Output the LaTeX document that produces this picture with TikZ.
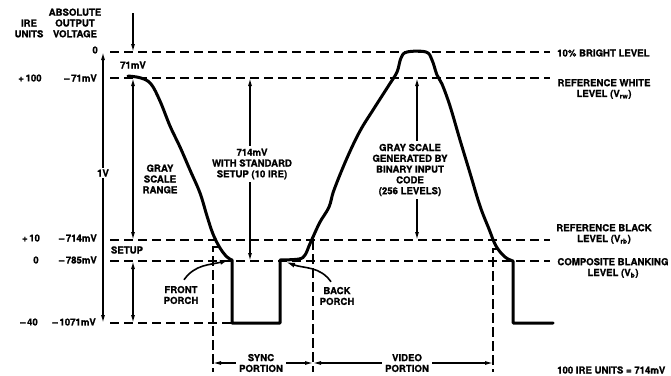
\documentclass[tikz,border=0pt]{standalone}
\usepackage{fontspec}
\setmainfont{TeX Gyre Heros}[BoldFeatures={FakeBold=1.2}]
\usetikzlibrary{arrows.meta,calc}

\tikzset{
  lbl/.style={font=\fontsize{9.6}{10.8}\selectfont\bfseries, align=center, inner sep=0pt},
  level/.style={line width=1.4pt, dash pattern=on 9pt off 5pt},
  dimarrow/.style={line width=1.3pt, -{Latex[length=8pt,width=4pt]}},
  porcharrow/.style={line width=1.6pt, -{Latex[length=9pt,width=5pt]}},
  signal/.style={line width=3pt, line join=round, line cap=round},
}

\begin{document}
\begin{tikzpicture}[x=1pt,y=-1pt]
  \useasboundingbox (0,0) rectangle (671,375);
  % ── Level lines ──
  \coordinate (zeroL) at (110,52);   \coordinate (zeroR) at (550,52);
  \coordinate (whiteL) at (110,78);  \coordinate (whiteR) at (550,78);
  \coordinate (blackL) at (110,240); \coordinate (blackR) at (550,240);
  \coordinate (blankL) at (110,261); \coordinate (blankR) at (550,261);
  \coordinate (syncL) at (110,323);  \coordinate (syncR) at (232,323);
  \draw[level] (zeroL) -- (zeroR);
  \draw[level] (whiteL) -- (whiteR);
  \draw[level] (blackL) -- (blackR);
  \draw[level] (blankL) -- (blankR);
  \draw[level] (syncL) -- (syncR);
  %
  % ── Portion markers ──
  \coordinate (bot) at (0,372);
  \coordinate (fpv) at (213,247);
  \coordinate (bpv) at (313,240);
  \coordinate (vev) at (493,249);
  \draw[level, dash pattern=on 10pt off 4pt] ($(fpv)+(5,0)$) -- (fpv) -- (fpv |- bot);
  \draw[level, dash pattern=on 10pt off 4pt] (bpv) -- (bpv |- bot);
  \draw[level, dash pattern=on 10pt off 4pt] ($(vev)+(6,0)$) -- (vev) -- (vev |- bot);
  %
  % ── Video signal ──
  \draw[signal]
    plot[smooth, tension=0.6] coordinates {(128,76) (141,78) (151,84) (160,101)
      (170,126) (180,147) (190,170) (200,193) (207,216) (213,234) (220,248)
      (227,257) (232,260)}
    -- (232,323) -- (280,323) -- (280,260)
    -- plot[smooth, tension=0.6] coordinates {(280,260) (299,259) (305,255)
      (309,246) (313,237) (320,222) (329,207) (334,190) (347,158) (360,131)
      (373,110) (389,85) (397,72) (401,58) (407,52) (426,52) (432,60) (437,75)
      (442,84) (450,106) (460,140) (470,173) (480,206) (489,229) (496,246)
      (505,257) (513,261)}
    -- (513,323) -- (553,323);
  %
  % ── Left scale ──
  \node[lbl] (ire) at (29,28.5) {IRE\\UNITS};
  \node[lbl] (absv) at (75,23) {ABSOLUTE\\OUTPUT\\VOLTAGE};
  \node[lbl, anchor=east] (vzero) at (98,50) {0};
  \node[lbl] (ireW) at (30,78) {+\,100};
  \node[lbl, anchor=east] (vW) at (97,78) {--\,71mV};
  \node[lbl] (ireB) at (31,238) {+\,10};
  \node[lbl, anchor=east] (vB) at (97,238) {--\,714mV};
  \node[lbl] (ireZ) at (36,260) {0};
  \node[lbl, anchor=east] (vZ) at (97,260) {--\,785mV};
  \node[lbl] (ireS) at (29,322) {--\,40};
  \node[lbl, anchor=east] (vS) at (96,322) {--\,1071mV};
  %
  % ── 1V span ──
  \node[lbl, fill=white, inner sep=1.5pt] (onev) at (103,173) {1V};
  \draw[dimarrow] (onev) -- (onev |- zeroL);
  \draw[dimarrow] (onev) -- (onev |- syncL);
  %
  % ── Gray scale range ──
  \coordinate (topA) at (133,13);
  \draw[dimarrow] (topA) -- (topA |- zeroL);
  \node[lbl] (peak) at (133,65) {71mV};
  \draw[dimarrow, {Latex[length=8pt,width=4pt]}-{Latex[length=8pt,width=4pt]}]
    (topA |- whiteL) -- (topA |- blackL);
  \node[lbl] (gsr) at (160,179) {GRAY\\SCALE\\RANGE};
  \node[lbl] (setup) at (127,250) {SETUP};
  \draw[dimarrow, {Latex[length=8pt,width=4pt]}-{Latex[length=8pt,width=4pt]}]
    (topA |- blankL) -- (topA |- syncL);
  %
  % ── 714mV span ──
  \coordinate (stdx) at (250,0);
  \node[lbl, inner sep=3pt] (std) at (252,164) {714mV\\WITH STANDARD\\SETUP (10 IRE)};
  \draw[dimarrow] (std.north -| stdx) -- (stdx |- whiteL);
  \draw[dimarrow] (std.south -| stdx) -- (stdx |- blankL);
  %
  % ── Gray scale generated ──
  \coordinate (gsgx) at (417,0);
  \node[lbl, inner sep=3pt] (gsg) at (410,170)
    {GRAY SCALE\\GENERATED BY\\BINARY INPUT\\CODE\\(256 LEVELS)};
  \draw[dimarrow] (gsg.north -| gsgx) -- (gsgx |- whiteL);
  \draw[dimarrow] (gsg.south -| gsgx) -- (gsgx |- blackL);
  %
  % ── Porches ──
  \node[lbl] (fporch) at (181,295) {FRONT\\PORCH};
  \coordinate (fptip) at (229,260);
  \draw[porcharrow] ([xshift=3pt,yshift=6pt]fporch.north) to[out=55,in=195] (fptip);
  \node[lbl] (bporch) at (337,296) {BACK\\PORCH};
  \coordinate (bptip) at (286,262);
  \draw[porcharrow] ([xshift=-6pt,yshift=5pt]bporch.north) to[out=125,in=-20] (bptip);
  %
  % ── Portions ──
  \node[lbl, inner sep=3pt] (syncp) at (261,363) {SYNC\\PORTION};
  \draw[dimarrow, line width=1.1pt] (syncp.west) -- (fpv |- syncp.west);
  \draw[dimarrow, line width=1.1pt] (syncp.east) -- (bpv |- syncp.east);
  \node[lbl, inner sep=3pt] (videop) at (407,363) {VIDEO\\PORTION};
  \draw[dimarrow, line width=1.1pt] (videop.west) -- (bpv |- videop.west);
  \draw[dimarrow, line width=1.1pt] (videop.east) -- (vev |- videop.east);
  %
  % ── Right legend ──
  \node[lbl, anchor=west] (bright) at (557,53) {10\% BRIGHT LEVEL};
  \node[lbl] (rwhite) at (604,89) {REFERENCE WHITE\\LEVEL (V\textsubscript{rw})};
  \node[lbl] (rblack) at (604,234) {REFERENCE BLACK\\LEVEL (V\textsubscript{rb})};
  \node[lbl] (cblank) at (613,268) {COMPOSITE BLANKING\\LEVEL (V\textsubscript{b})};
  \node[lbl, anchor=west] (ireunits) at (557,370) {100 IRE UNITS = 714mV};
\end{tikzpicture}
\end{document}
